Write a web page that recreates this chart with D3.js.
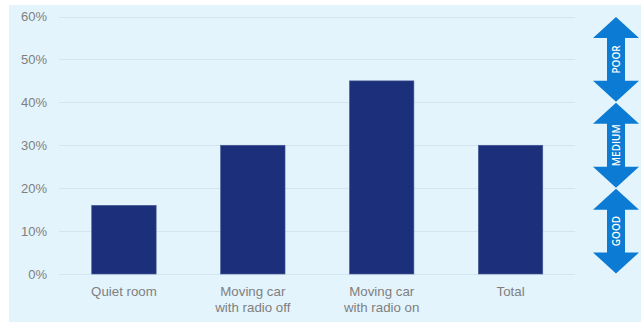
<!DOCTYPE html>
<html>
<head>
<meta charset="utf-8">
<script src="https://cdn.jsdelivr.net/npm/d3@7"></script>
<style>
  html, body { margin: 0; padding: 0; background: #fff; }
  svg { display: block; }
  text { font-family: "Liberation Sans", Arial, sans-serif; }
</style>
</head>
<body>
<div id="chart"></div>
<script>
// values
const categories = ['Quiet room', 'Moving car\nwith radio off', 'Moving car\nwith radio on', 'Total'];
const values = [16, 30, 45, 30];
const yTicks = [0, 10, 20, 30, 40, 50, 60];
// rating bands on the right side (in %)
const bandLabels = ['GOOD', 'MEDIUM', 'POOR'];
const bandFrom = [0, 20, 40];
const bandTo = [20, 40, 60];

const W = 641, H = 322;
const svg = d3.select('#chart').append('svg')
  .attr('width', W)
  .attr('height', H);

// light blue panel
svg.append('rect')
  .attr('x', 9).attr('y', 5)
  .attr('width', W - 9).attr('height', H - 5)
  .attr('fill', '#e3f4fd');

const x = d3.scaleBand()
  .domain(categories)
  .range([59.5, 575])
  .paddingInner(0.5)
  .paddingOuter(0.25);

const y = d3.scaleLinear()
  .domain([0, 60])
  .range([274, 16.5]);

// gridlines
svg.append('g')
  .selectAll('line')
  .data(yTicks)
  .join('line')
  .attr('x1', 59).attr('x2', 575)
  .attr('y1', d => Math.round(y(d)) + 0.5)
  .attr('y2', d => Math.round(y(d)) + 0.5)
  .attr('stroke', '#d3e5f0')
  .attr('stroke-width', 1);

// y axis labels
const yAxis = svg.append('g')
  .attr('transform', 'translate(47,0)')
  .call(d3.axisLeft(y).tickValues(yTicks).tickSize(0).tickPadding(0).tickFormat(d => d + '%'));
yAxis.select('.domain').remove();
yAxis.selectAll('text')
  .attr('fill', '#7f7f7f')
  .style('font-size', '13px');

// bars
svg.append('g')
  .selectAll('rect')
  .data(values)
  .join('rect')
  .attr('x', (d, i) => x(categories[i]))
  .attr('y', d => y(d))
  .attr('width', x.bandwidth())
  .attr('height', d => y(0) - y(d))
  .attr('fill', '#1b2f7a')
  .attr('stroke', '#4a5c98')
  .attr('stroke-width', 0.6);

// x labels (multi-line)
const xl = svg.append('g')
  .selectAll('text')
  .data(categories)
  .join('text')
  .attr('text-anchor', 'middle')
  .attr('fill', '#7f7f7f')
  .style('font-size', '13.3px')
  .attr('transform', d => `translate(${x(d) + x.bandwidth() / 2},296)`);
xl.selectAll('tspan')
  .data(d => d.split('\n'))
  .join('tspan')
  .attr('x', 0)
  .attr('dy', (d, i) => i === 0 ? 0 : 15.5)
  .text(d => d);

// double headed arrows
const cx = 616, shaftHalf = 9, headHalf = 23, headLen = 21;
function arrowPath(top, bottom) {
  const p = d3.path();
  p.moveTo(cx, top);
  p.lineTo(cx + headHalf, top + headLen);
  p.lineTo(cx + shaftHalf, top + headLen);
  p.lineTo(cx + shaftHalf, bottom - headLen);
  p.lineTo(cx + headHalf, bottom - headLen);
  p.lineTo(cx, bottom);
  p.lineTo(cx - headHalf, bottom - headLen);
  p.lineTo(cx - shaftHalf, bottom - headLen);
  p.lineTo(cx - shaftHalf, top + headLen);
  p.lineTo(cx - headHalf, top + headLen);
  p.closePath();
  return p.toString();
}

const arrows = svg.append('g')
  .selectAll('g')
  .data(bandLabels)
  .join('g');

arrows.append('path')
  .attr('d', (d, i) => arrowPath(y(bandTo[i]) + 0.5, y(bandFrom[i]) - 0.5))
  .attr('fill', '#0c7bd3');

arrows.append('text')
  .attr('transform', (d, i) => `translate(${cx + 3.5},${(y(bandTo[i]) + y(bandFrom[i])) / 2}) rotate(-90)`)
  .attr('text-anchor', 'middle')
  .attr('fill', '#fff')
  .style('font-family', '"Open Sans", sans-serif')
  .style('font-size', '10px')
  .style('font-weight', '600')
  .text(d => d);
</script>
</body>
</html>
